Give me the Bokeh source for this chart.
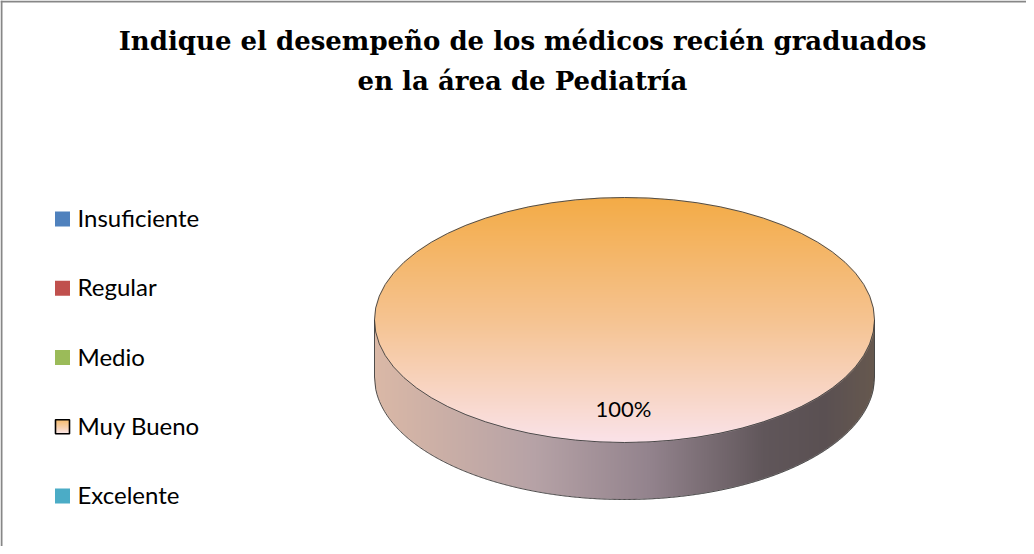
import numpy as np
from bokeh.plotting import figure
from bokeh.models import Range1d
from bokeh.core.properties import value
from bokeh.embed import file_html
from bokeh.resources import INLINE

# ---------------- data ----------------
title_lines = ["Indique el desempeño de los médicos recién graduados",
               "en la área de Pediatría"]
categories = ["Insuficiente", "Regular", "Medio", "Muy Bueno", "Excelente"]
percentages = [0, 0, 0, 100, 0]
colors = ["#4F81BD", "#C0504D", "#9BBB59", "#F79646", "#4BACC6"]

# ---------------- styles ----------------
# gradient stops (t, rgb) for the top face (vertical) and side (horizontal)
top_grad = {"Muy Bueno": [(0.0, (243, 171, 70)), (0.5, (245, 195, 145)), (1.0, (250, 226, 233))]}
side_grad = {"Muy Bueno": [(0.0, (218, 184, 166)), (0.32, (182, 162, 166)), (0.55, (147, 131, 141)),
                           (0.78, (96, 86, 90)), (0.9, (90, 80, 82)), (1.0, (102, 88, 78))]}

W, H = 1026, 546
p = figure(width=W, height=H, x_range=Range1d(0, W), y_range=Range1d(0, H),
           x_axis_type=None, y_axis_type=None, output_backend="svg",
           toolbar_location=None, min_border=0)
p.outline_line_color = None
p.background_fill_color = "white"
p.border_fill_color = "white"
p.grid.visible = False


def fy(page_y):
    """page pixel row -> data y"""
    return H - (page_y - 8)


def fx(page_x):
    return page_x - 8


def hex2rgb(h):
    h = h.lstrip("#")
    return tuple(int(h[i:i + 2], 16) for i in (0, 2, 4))


def interp(stops, t):
    t = np.clip(t, 0, 1)
    ts = [s[0] for s in stops]
    out = np.zeros(t.shape + (3,))
    for c in range(3):
        out[..., c] = np.interp(t, ts, [s[1][c] for s in stops])
    return out


# border (left and top)
p.line([1, 1], [0, H], line_color="#878787", line_width=2)
p.line([0, W], [H - 1, H - 1], line_color="#878787", line_width=2)

# title
for i, line in enumerate(title_lines):
    p.text(x=[fx(530)], y=[fy(48 + 40 * i)], text=[line], text_align="center",
           text_baseline="middle", text_font=value("DejaVu Serif"),
           text_font_style="bold", text_font_size="26px", text_color="black")

# ---------------- 3D pie ----------------
cx, cy = fx(632), fy(327.5)
rx, ry, depth = 250.0, 122.5, 57.0

total = float(sum(percentages))
fracs = [v / total for v in percentages]
cum = np.concatenate([[0.0], np.cumsum(fracs)])

x0 = int(np.floor(cx - rx - 3)); x1 = int(np.ceil(cx + rx + 3))
y0 = int(np.floor(cy - ry - depth - 3)); y1 = int(np.ceil(cy + ry + 3))
nx, ny = x1 - x0, y1 - y0
s = 3
xs = x0 + (np.arange(nx * s) + 0.5) / s
ys = y0 + (np.arange(ny * s) + 0.5) / s
X, Y = np.meshgrid(xs, ys)
u = (X - cx) / rx
v = (Y - cy) / ry
top_mask = u ** 2 + v ** 2 <= 1
hh = ry * np.sqrt(np.clip(1 - u ** 2, 0, None))
side_mask = (np.abs(u) <= 1) & (Y >= cy - depth - hh) & (Y < cy - hh) & ~top_mask

ang_top = np.mod(np.arctan2(u, v), 2 * np.pi) / (2 * np.pi)
ang_side = np.mod(np.arctan2(u, -np.sqrt(np.clip(1 - u ** 2, 0, None))), 2 * np.pi) / (2 * np.pi)

rgb = np.zeros(X.shape + (3,))
mask = np.zeros(X.shape)
t_top = (cy + ry - Y) / (2 * ry)
t_side = (X - (cx - rx)) / (2 * rx)
for k, cat in enumerate(categories):
    if fracs[k] <= 0:
        continue
    base = np.array(hex2rgb(colors[k]), dtype=float)
    in_k_top = top_mask & (ang_top >= cum[k]) & (ang_top <= cum[k + 1])
    in_k_side = side_mask & (ang_side >= cum[k]) & (ang_side <= cum[k + 1])
    if cat in top_grad:
        ct = interp(top_grad[cat], t_top)
    else:
        ct = np.broadcast_to(base, X.shape + (3,))
    if cat in side_grad:
        cs = interp(side_grad[cat], t_side)
    else:
        cs = np.broadcast_to(base * 0.7, X.shape + (3,))
    rgb[in_k_top] = ct[in_k_top]
    rgb[in_k_side] = cs[in_k_side]
    mask[in_k_top | in_k_side] = 1

rgbm = rgb * mask[..., None]
rgb_sum = rgbm.reshape(ny, s, nx, s, 3).sum(axis=(1, 3))
cnt = mask.reshape(ny, s, nx, s).sum(axis=(1, 3))
col = rgb_sum / np.maximum(cnt, 1)[..., None]
alpha = cnt / (s * s)
img = np.zeros((ny, nx), dtype=np.uint32)
view = img.view(dtype=np.uint8).reshape((ny, nx, 4))
view[..., 0:3] = np.clip(np.round(col), 0, 255).astype(np.uint8)
view[..., 3] = np.clip(np.round(alpha * 255), 0, 255).astype(np.uint8)
p.image_rgba(image=[img], x=x0, y=y0, dw=nx, dh=ny)

# outlines
oc, ow = "#3c3c3c", 0.9
p.ellipse(x=[cx], y=[cy], width=[2 * rx], height=[2 * ry], fill_color=None,
          line_color=oc, line_width=ow)
uu = np.linspace(-1, 1, 400)
p.line(cx + rx * uu, cy - depth - ry * np.sqrt(1 - uu ** 2), line_color=oc, line_width=ow)
p.line([cx - rx, cx - rx], [cy, cy - depth], line_color=oc, line_width=ow)
p.line([cx + rx, cx + rx], [cy, cy - depth], line_color=oc, line_width=ow)
nonzero = [k for k in range(len(fracs)) if fracs[k] > 0]
if len(nonzero) > 1:
    for k in nonzero:
        a = 2 * np.pi * cum[k]
        p.line([cx, cx + rx * np.sin(a)], [cy, cy + ry * np.cos(a)], line_color=oc, line_width=ow)

# data labels
for k in nonzero:
    a = 2 * np.pi * (cum[k] + cum[k + 1]) / 2
    p.text(x=[cx + 0.72 * rx * np.sin(a) - 1], y=[cy + 0.72 * ry * np.cos(a)],
           text=[f"{percentages[k]:g}%"], text_align="center", text_baseline="middle",
           text_font=value("Lato"), text_font_size="22px", text_color="black")

# ---------------- legend ----------------
sq = 15
for i, cat in enumerate(categories):
    yc = fy(226.5 + 69.25 * i)
    xc = fx(70)
    if cat in top_grad:
        n = 15
        tt = (np.arange(n) + 0.5) / n
        cc = interp(top_grad[cat], tt)
        hexes = ["#%02x%02x%02x" % tuple(int(round(c)) for c in row) for row in cc]
        tops = yc + sq / 2 - np.arange(n) * sq / n
        p.quad(left=xc - sq / 2, right=xc + sq / 2, top=tops, bottom=tops - sq / n,
               fill_color=hexes, line_color=None)
        p.rect(x=[xc], y=[yc], width=[sq - 1], height=[sq - 1], fill_color=None,
               line_color="black", line_width=1.6)
    else:
        p.rect(x=[xc], y=[yc], width=[sq], height=[sq], fill_color=colors[i], line_color=None)
    p.text(x=[fx(85)], y=[yc + 1.5], text=[cat], text_align="left",
           text_baseline="middle", text_font=value("Lato"),
           text_font_size="24px", text_color="black")

open("out.html", "w").write(file_html(p, INLINE))
